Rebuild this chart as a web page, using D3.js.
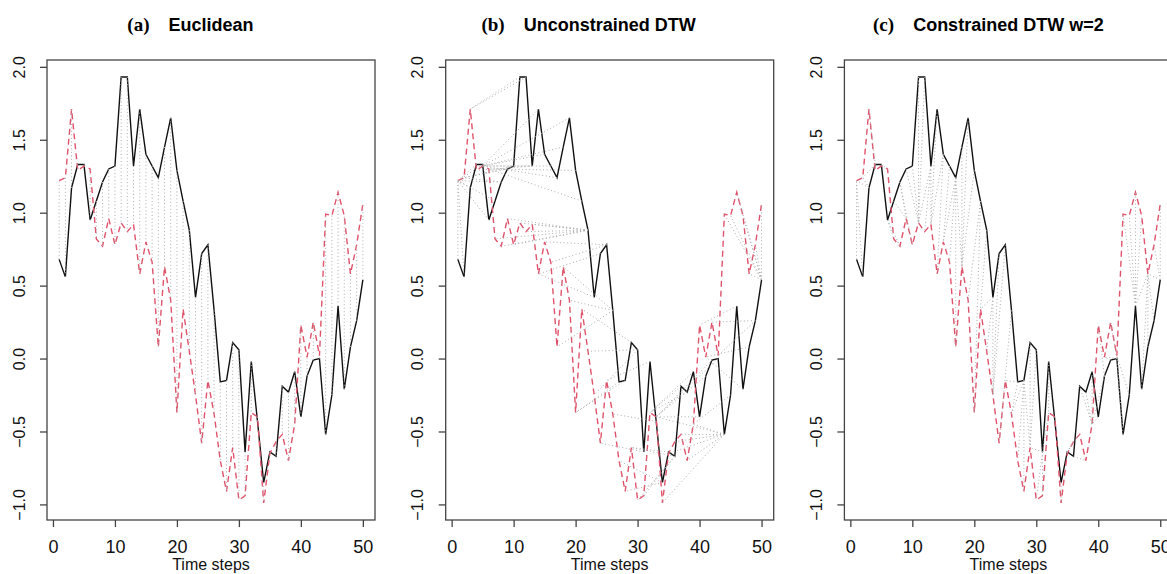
<!DOCTYPE html>
<html>
<head>
<meta charset="utf-8">
<script src="https://cdn.jsdelivr.net/npm/d3@7"></script>
<style>
  html, body { margin: 0; padding: 0; background: #fff; overflow: hidden; }
  svg { display: block; }
  .tick text { font-family: "Liberation Sans", Arial, sans-serif; fill: #111; }
</style>
</head>
<body>
<svg id="dtw-svg"></svg>
<script>
const width = 1167;
const height = 574;

// time index and the two series (black = query, red = reference)
const steps = d3.range(1, 51);

const queryValues = [
  0.68, 0.56, 1.17, 1.33, 1.33, 0.95, 1.08, 1.21, 1.30, 1.32,
  1.93, 1.93, 1.32, 1.71, 1.40, 1.32, 1.24, 1.45, 1.65, 1.29,
  1.08, 0.88, 0.42, 0.72, 0.78, 0.33, -0.16, -0.15, 0.11, 0.06,
  -0.64, -0.02, -0.43, -0.85, -0.64, -0.67, -0.19, -0.23, -0.09, -0.40,
  -0.12, -0.01, 0.00, -0.52, -0.25, 0.36, -0.21, 0.08, 0.26, 0.54
];

const referenceValues = [
  1.22, 1.24, 1.71, 1.29, 1.32, 1.30, 0.82, 0.77, 0.96, 0.78,
  0.93, 0.87, 0.92, 0.58, 0.80, 0.66, 0.08, 0.63, 0.40, -0.37,
  0.34, 0.05, -0.25, -0.58, -0.15, -0.38, -0.70, -0.91, -0.61, -0.97,
  -0.94, -0.37, -0.40, -0.99, -0.65, -0.57, -0.52, -0.70, -0.45, 0.23,
  0.01, 0.25, 0.02, 0.99, 0.98, 1.14, 0.98, 0.58, 0.78, 1.06
];

const xTicks = [0, 10, 20, 30, 40, 50];
const yTicks = [-1.0, -0.5, 0.0, 0.5, 1.0, 1.5, 2.0];

const panelTags = ["(a)", "(b)", "(c)"];
const panelTitles = ["Euclidean", "Unconstrained DTW", "Constrained DTW w=2"];
// alignment type per panel: 0 = one-to-one (Euclidean), Infinity = free DTW, 2 = Sakoe-Chiba window
const panelWindows = [0, Infinity, 2];

const svg = d3.select("#dtw-svg")
  .attr("width", width)
  .attr("height", height);

// symmetric2 DTW with optional Sakoe-Chiba band, returns matched index pairs
function dtwPath(a, b, w) {
  const n = a.length, m = b.length;
  const g = Array.from({ length: n }, () => new Array(m).fill(Infinity));
  const from = Array.from({ length: n }, () => new Array(m).fill(-1));
  for (let i = 0; i < n; i++) {
    for (let j = 0; j < m; j++) {
      if (Math.abs(i - j) > w) continue;
      const d = Math.abs(a[i] - b[j]);
      if (i === 0 && j === 0) { g[i][j] = d; continue; }
      let best = Infinity, k = -1;
      if (i > 0 && j > 0 && g[i - 1][j - 1] + 2 * d < best) { best = g[i - 1][j - 1] + 2 * d; k = 0; }
      if (i > 0 && g[i - 1][j] + d < best) { best = g[i - 1][j] + d; k = 1; }
      if (j > 0 && g[i][j - 1] + d < best) { best = g[i][j - 1] + d; k = 2; }
      g[i][j] = best;
      from[i][j] = k;
    }
  }
  const path = [];
  let i = n - 1, j = m - 1;
  while (i >= 0 && j >= 0) {
    path.push([i, j]);
    const k = from[i][j];
    if (k === 0) { i--; j--; }
    else if (k === 1) { i--; }
    else if (k === 2) { j--; }
    else break;
  }
  return path.reverse();
}

// R style axis ranges (4% padding on the data range)
function padded(ext) {
  const p = (ext[1] - ext[0]) * 0.04;
  return [ext[0] - p, ext[1] + p];
}

const margin = { top: 60, left: 47 };
const panelStep = 398.7;
const innerWidth = 328;
const innerHeight = 460;

const xScale = d3.scaleLinear()
  .domain(padded(d3.extent(steps)))
  .range([0, innerWidth]);

const yScale = d3.scaleLinear()
  .domain(padded(d3.extent(queryValues.concat(referenceValues))))
  .range([innerHeight, 0]);

const line = d3.line()
  .x((d, i) => xScale(steps[i]))
  .y(d => yScale(d));

panelTitles.forEach((title, p) => {
  const g = svg.append("g")
    .attr("transform", `translate(${margin.left + p * panelStep},${margin.top})`);

  // series
  g.append("path")
    .datum(queryValues)
    .attr("d", line)
    .attr("fill", "none")
    .attr("stroke", "#111")
    .attr("stroke-width", 1.4);

  g.append("path")
    .datum(referenceValues)
    .attr("d", line)
    .attr("fill", "none")
    .attr("stroke", "#DF536B")
    .attr("stroke-width", 1.4)
    .attr("stroke-dasharray", "6,4");

  // matching segments
  const matches = dtwPath(queryValues, referenceValues, panelWindows[p]);
  g.selectAll(".match")
    .data(matches)
    .enter()
    .append("line")
    .attr("class", "match")
    .attr("x1", d => xScale(steps[d[0]]))
    .attr("y1", d => yScale(queryValues[d[0]]))
    .attr("x2", d => xScale(steps[d[1]]))
    .attr("y2", d => yScale(referenceValues[d[1]]))
    .attr("stroke", "#adadad")
    .attr("stroke-width", 1)
    .attr("stroke-dasharray", "1,2.5");

  // box
  g.append("rect")
    .attr("width", innerWidth)
    .attr("height", innerHeight)
    .attr("fill", "none")
    .attr("stroke", "#444")
    .attr("stroke-width", 1.3);

  // x axis
  const xAxisG = g.append("g")
    .attr("transform", `translate(0,${innerHeight})`)
    .call(d3.axisBottom(xScale).tickValues(xTicks).tickSize(7).tickPadding(13).tickFormat(d3.format("d")));
  xAxisG.select(".domain").remove();
  xAxisG.selectAll(".tick line").attr("stroke", "#444").attr("stroke-width", 1.3);
  xAxisG.selectAll("text").style("font-size", "18px");

  // y axis, labels rotated like R's las = 0
  const yAxisG = g.append("g")
    .call(d3.axisLeft(yScale).tickValues(yTicks).tickSize(7).tickFormat(d3.format(".1f")));
  yAxisG.select(".domain").remove();
  yAxisG.selectAll(".tick line").attr("stroke", "#444").attr("stroke-width", 1.3);
  yAxisG.selectAll("text")
    .attr("x", null)
    .attr("dy", null)
    .attr("text-anchor", "middle")
    .attr("transform", "translate(-22.5,0) rotate(-90)")
    .style("font-size", "16px");

  // x label
  g.append("text")
    .attr("x", innerWidth / 2)
    .attr("y", innerHeight + 50)
    .attr("text-anchor", "middle")
    .style("font-family", "'Liberation Sans', Arial, sans-serif")
    .style("font-size", "16px")
    .attr("fill", "#111")
    .text("Time steps");

  // title and panel tag
  const titleText = g.append("text")
    .attr("x", innerWidth / 2)
    .attr("y", -29)
    .attr("text-anchor", "middle")
    .style("font-family", "'Liberation Sans', Arial, sans-serif")
    .style("font-weight", "bold")
    .style("font-size", "18px")
    .attr("fill", "#000")
    .text(title);

  const titleWidth = titleText.node().getComputedTextLength();
  g.append("text")
    .attr("x", innerWidth / 2 - titleWidth / 2 - 19)
    .attr("y", -29)
    .attr("text-anchor", "end")
    .style("font-family", "'Liberation Serif', 'Times New Roman', serif")
    .style("font-weight", "bold")
    .style("font-size", "19px")
    .attr("fill", "#000")
    .text(panelTags[p]);
});
</script>
</body>
</html>
